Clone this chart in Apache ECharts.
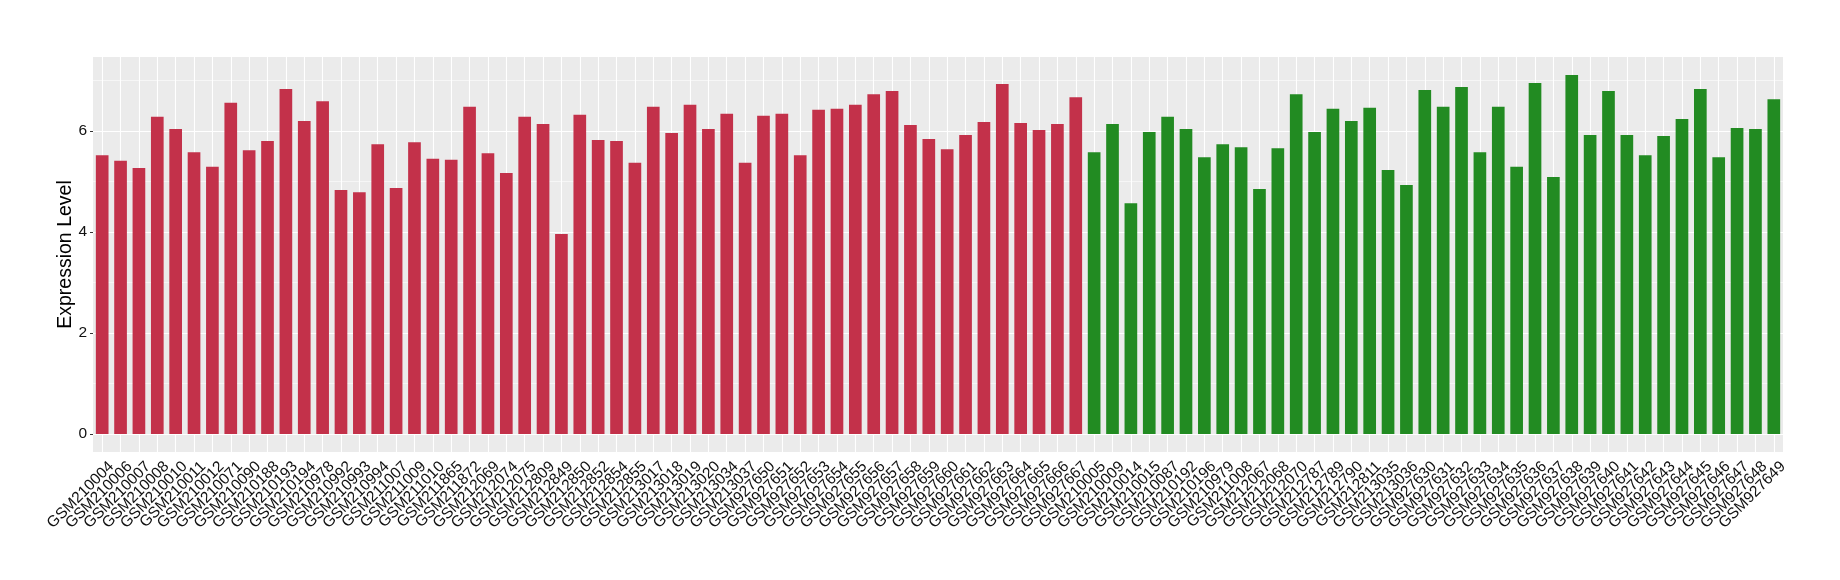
<!DOCTYPE html>
<html>
<head>
<meta charset="utf-8">
<script src="https://cdn.jsdelivr.net/npm/echarts@6/dist/echarts.min.js"></script>
<style>
html,body{margin:0;padding:0;background:#ffffff;}
#chart{width:1840px;height:580px;}
</style>
</head>
<body>
<div id="chart"></div>
<script>
// ---- data ----
const redSamples = [
  "GSM210004","GSM210006","GSM210007","GSM210008","GSM210010","GSM210011","GSM210012","GSM210071",
  "GSM210090","GSM210188","GSM210193","GSM210194","GSM210978","GSM210992","GSM210993","GSM210994",
  "GSM211007","GSM211009","GSM211010","GSM211865","GSM211872","GSM212069","GSM212074","GSM212075",
  "GSM212809","GSM212849","GSM212850","GSM212852","GSM212854","GSM212855","GSM213017","GSM213018",
  "GSM213019","GSM213020","GSM213034","GSM213037","GSM927650","GSM927651","GSM927652","GSM927653",
  "GSM927654","GSM927655","GSM927656","GSM927657","GSM927658","GSM927659","GSM927660","GSM927661",
  "GSM927662","GSM927663","GSM927664","GSM927665","GSM927666","GSM927667"
];
const redValues = [
  5.52,5.41,5.27,6.28,6.04,5.58,5.29,6.56,
  5.62,5.80,6.83,6.20,6.59,4.83,4.79,5.74,
  4.87,5.78,5.45,5.43,6.48,5.56,5.17,6.28,
  6.14,3.96,6.32,5.82,5.80,5.37,6.48,5.96,
  6.52,6.04,6.34,5.37,6.30,6.34,5.52,6.42,
  6.44,6.52,6.73,6.79,6.12,5.84,5.64,5.92,
  6.18,6.93,6.16,6.02,6.14,6.67
];
const greenSamples = [
  "GSM210005","GSM210009","GSM210014","GSM210015","GSM210087","GSM210192","GSM210196","GSM210979",
  "GSM211008","GSM212067","GSM212068","GSM212070","GSM212787","GSM212789","GSM212790","GSM212811",
  "GSM213035","GSM213036","GSM927630","GSM927631","GSM927632","GSM927633","GSM927634","GSM927635",
  "GSM927636","GSM927637","GSM927638","GSM927639","GSM927640","GSM927641","GSM927642","GSM927643",
  "GSM927644","GSM927645","GSM927646","GSM927647","GSM927648","GSM927649"
];
const greenValues = [
  5.58,6.14,4.57,5.98,6.28,6.04,5.48,5.74,
  5.68,4.85,5.66,6.73,5.98,6.44,6.20,6.46,
  5.23,4.93,6.81,6.48,6.87,5.58,6.48,5.29,
  6.95,5.09,7.11,5.92,6.79,5.92,5.52,5.90,
  6.24,6.83,5.48,6.06,6.04,6.63
];
const yTickLabels = [0, 2, 4, 6];
const yMinorLines = [1, 3, 5, 7];

// ---- build ----
const RED = '#C3314A';
const GREEN = '#228B22';
const categories = redSamples.concat(greenSamples);
const barData = redValues.map(v => ({ value: v, itemStyle: { color: RED } }))
  .concat(greenValues.map(v => ({ value: v, itemStyle: { color: GREEN } })));

const allValues = redValues.concat(greenValues);
const vMax = Math.max.apply(null, allValues);
const yMin = -0.05 * vMax;
const yMax = 1.05 * vMax;

const gridLineData = []
  .concat(yTickLabels.map(v => ({ yAxis: v, lineStyle: { color: '#FFFFFF', width: 1.1 } })))
  .concat(yMinorLines.map(v => ({ yAxis: v, lineStyle: { color: '#FFFFFF', width: 0.55 } })))
  .concat(categories.map(c => ({ xAxis: c, lineStyle: { color: '#FFFFFF', width: 1.1 } })));

const chart = echarts.init(document.getElementById('chart'), null, { renderer: 'canvas' });
chart.setOption({
  animation: false,
  backgroundColor: '#FFFFFF',
  textStyle: { fontFamily: '"Liberation Sans", Arial, Helvetica, sans-serif' },
  grid: {
    left: 93, right: 57, top: 57, bottom: 128,
    show: true, backgroundColor: '#EBEBEB', borderWidth: 0,
    containLabel: false, outerBoundsMode: 'none'
  },
  xAxis: {
    type: 'category',
    data: categories,
    boundaryGap: true,
    axisLine: { show: false },
    axisTick: { show: true, alignWithLabel: true, interval: 0, length: 3, lineStyle: { color: '#333333', width: 1 } },
    axisLabel: {
      interval: 0, rotate: 45, margin: 3,
      fontSize: 15.5, color: '#111111',
      align: 'right', verticalAlign: 'top',
      padding: [5, 0, 0, 0]
    },
    splitLine: { show: false }
  },
  yAxis: {
    type: 'value',
    min: yMin, max: yMax,
    axisLine: { show: false },
    axisTick: { show: true, length: 3, customValues: yTickLabels, lineStyle: { color: '#333333', width: 1 } },
    axisLabel: { customValues: yTickLabels, margin: 6, fontSize: 15.5, color: '#111111' },
    splitLine: { show: false },
    name: 'Expression Level',
    nameLocation: 'middle',
    nameGap: 17,
    nameMoveOverlap: false,
    nameTextStyle: { fontSize: 19.5, color: '#000000' }
  },
  series: [
    {
      type: 'line',
      data: [],
      z: 1,
      silent: true,
      markLine: {
        z: 1,
        silent: true,
        symbol: ['none', 'none'],
        label: { show: false },
        lineStyle: { type: 'solid' },
        emphasis: { disabled: true },
        data: gridLineData
      }
    },
    {
      type: 'bar',
      data: barData,
      barWidth: '69%',
      z: 3
    }
  ]
});
</script>
</body>
</html>
